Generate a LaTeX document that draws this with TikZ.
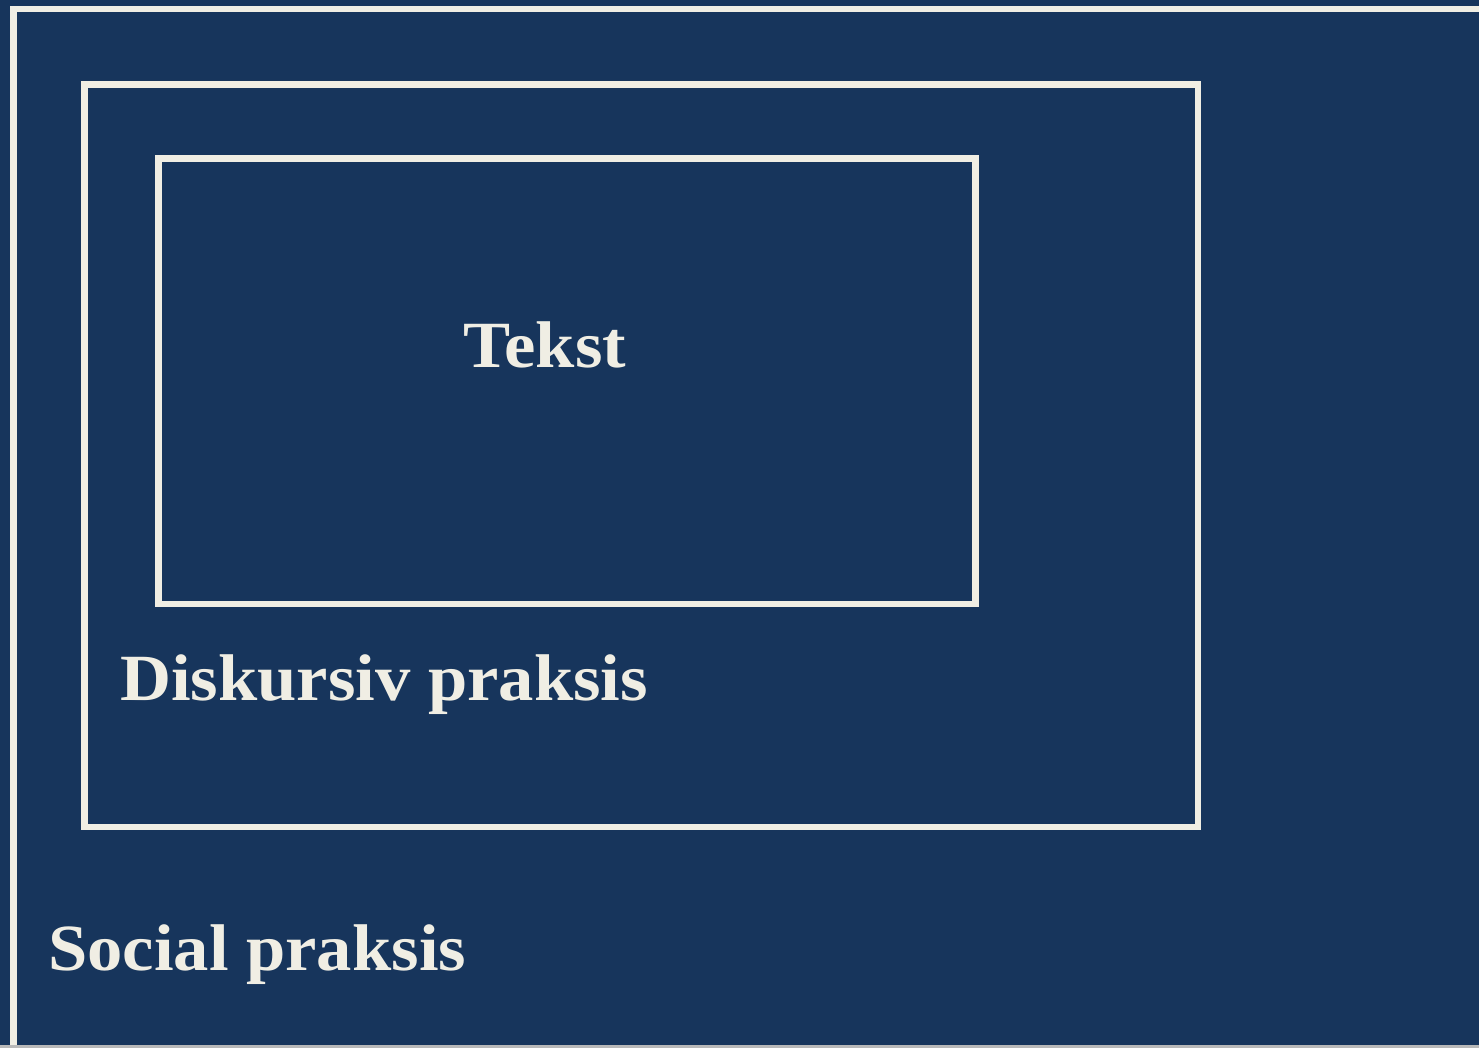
\documentclass[tikz,border=0pt]{standalone}
\usepackage{fontspec}
\setmainfont{Liberation Serif}
\definecolor{navy}{RGB}{23,53,92}
\definecolor{cream}{RGB}{240,238,228}
\definecolor{edgegrey}{RGB}{185,185,185}
% slightly widened bold serif lettering
\newcommand{\widelabel}[1]{\scalebox{1.07}[1]{#1}}
\begin{document}
\begin{tikzpicture}[x=1pt,y=-1pt,
  frame/.style={draw=cream,line width=6.5pt},
  label/.style={text=cream,font=\fontsize{66}{70}\selectfont\bfseries,inner sep=0pt}]
  % canvas
  \fill[navy] (0,0) rectangle (1479,1048);
  \useasboundingbox (0,0) rectangle (1479,1048);
  \fill[edgegrey] (0,1045) rectangle (1479,1048);
  % nested frames
  \draw[frame] (13.5,1045) |- (1479,9);
  \draw[frame] (84.5,84.5) rectangle (1198,827);
  \draw[frame] (158.5,158.5) rectangle (975.5,604);
  % labels
  \node[label,anchor=base] (tekst) at (545,367) {\widelabel{Tekst}};
  \node[label,anchor=base west] (diskursiv) at (120,700) {\widelabel{Diskursiv praksis}};
  \node[label,anchor=base west] (social) at (48,970) {\widelabel{Social praksis}};
\end{tikzpicture}
\end{document}
